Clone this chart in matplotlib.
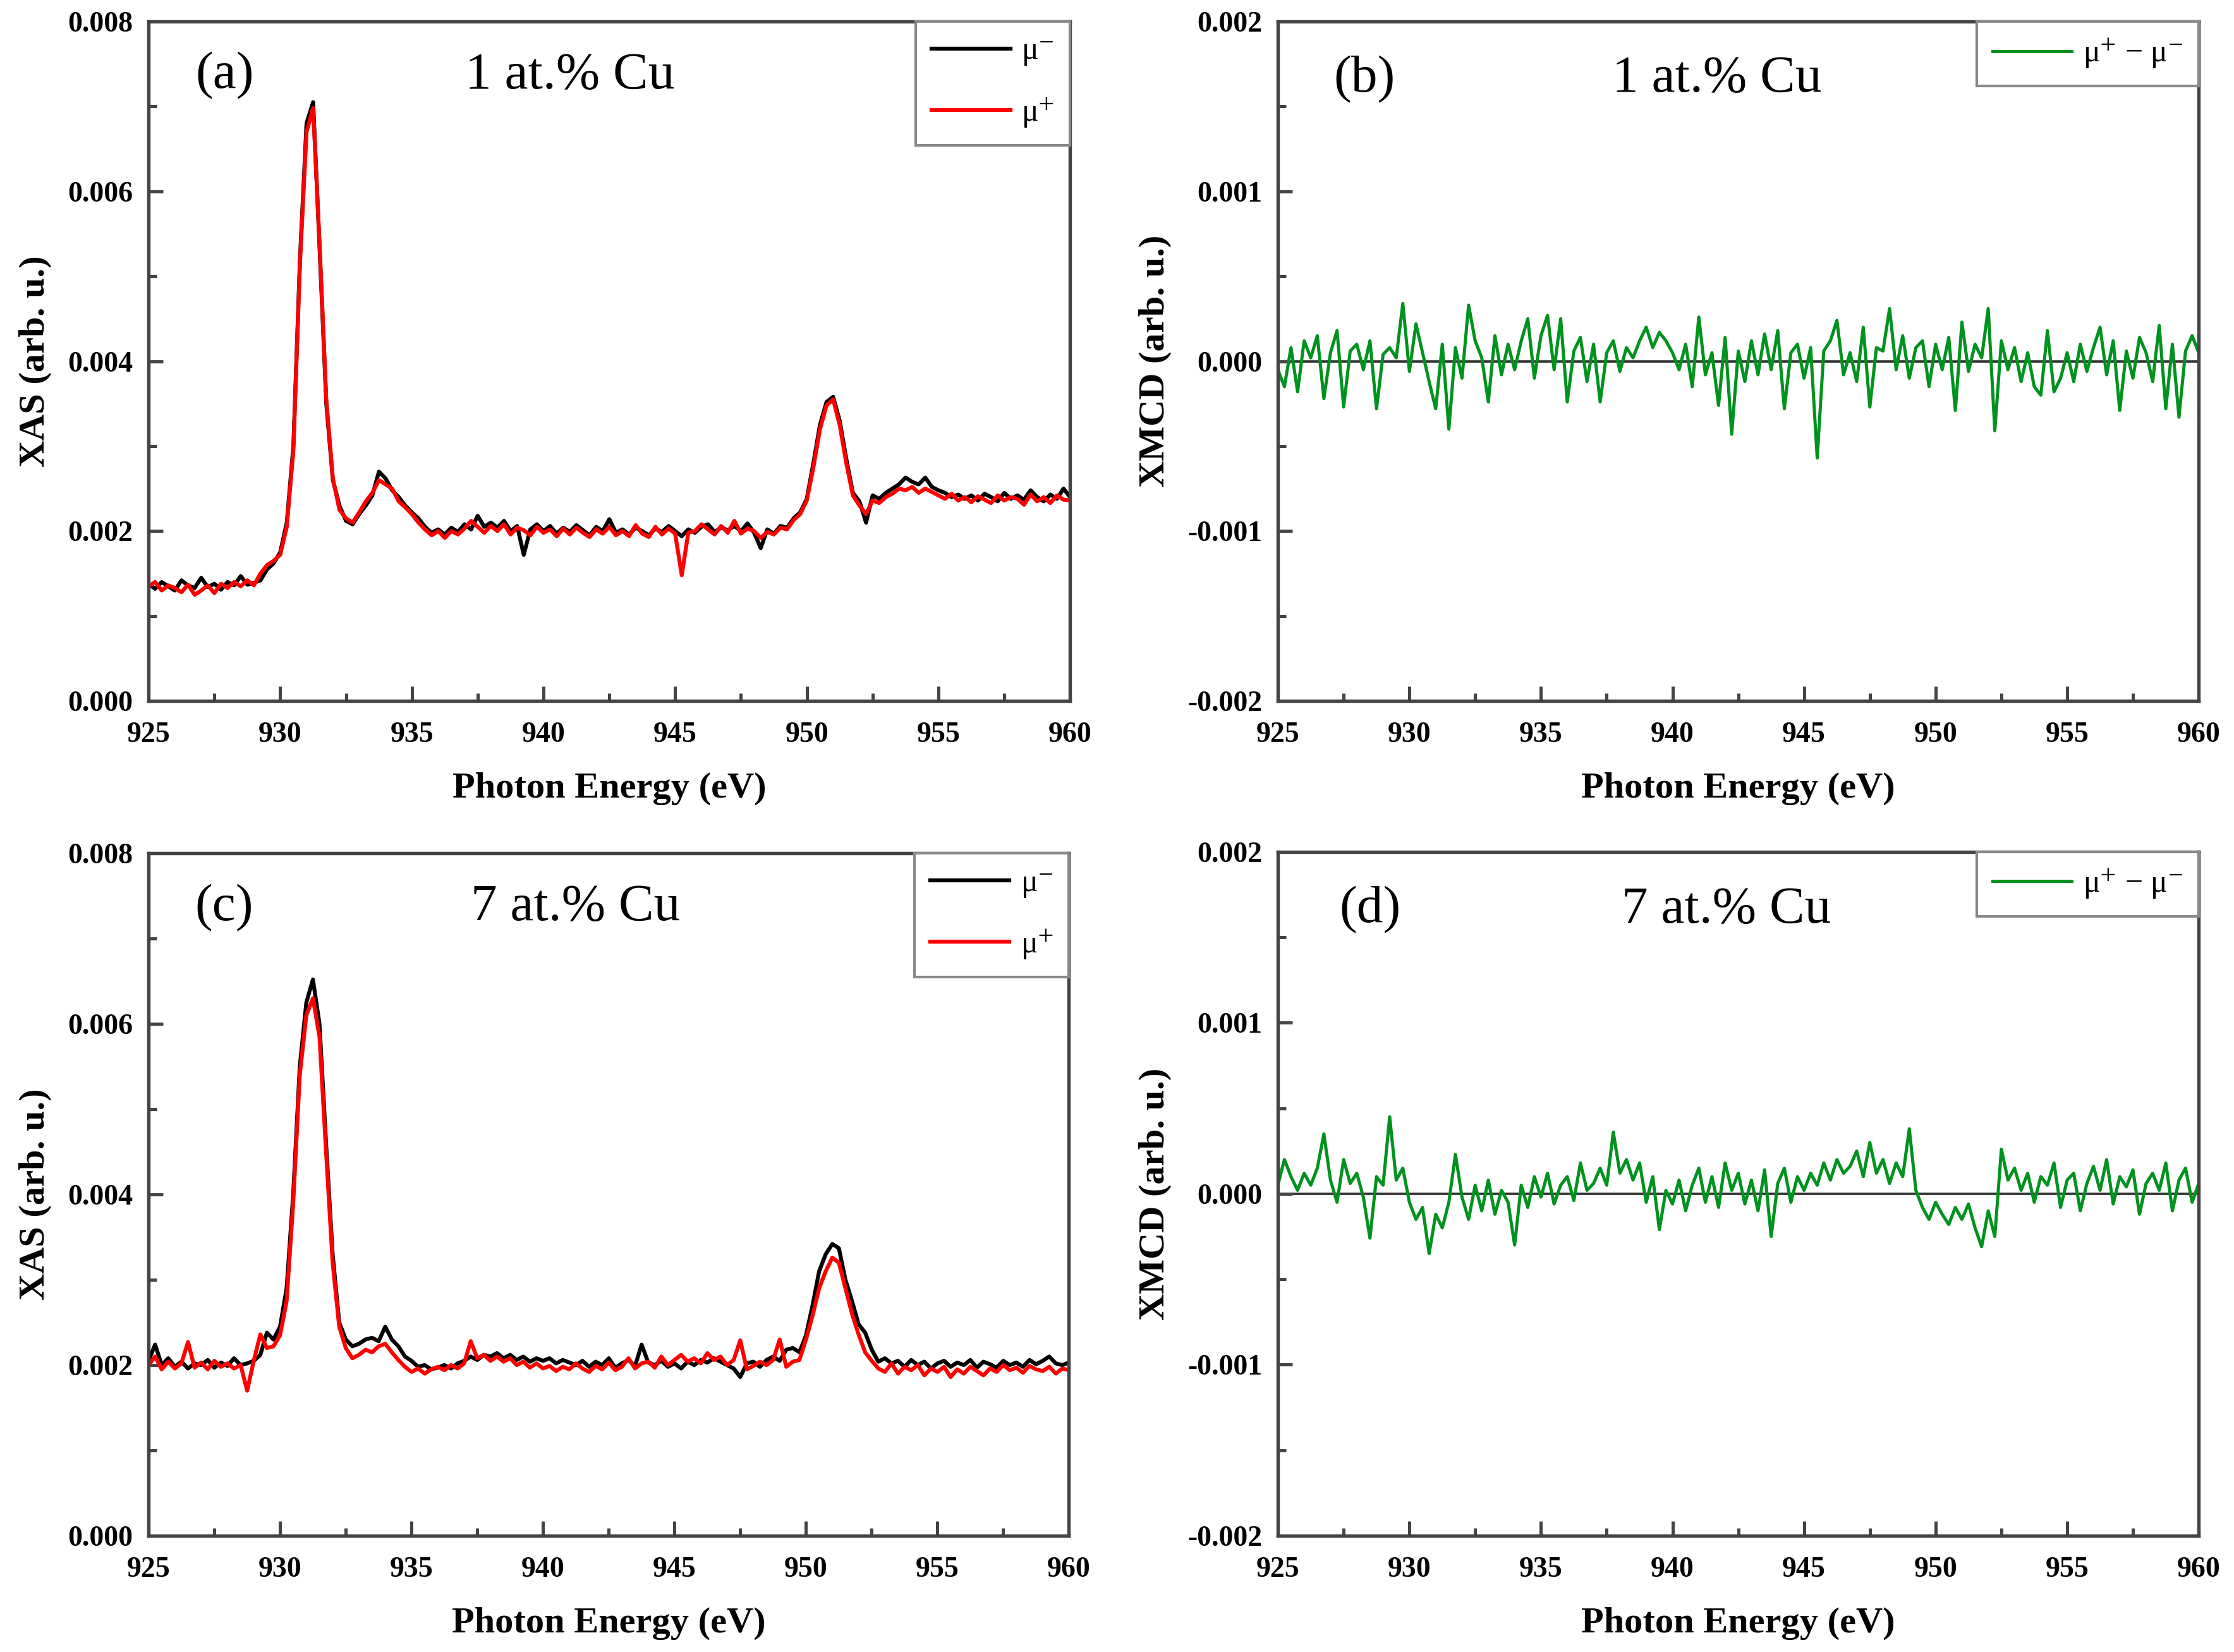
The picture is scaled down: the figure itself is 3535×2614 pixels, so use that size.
import numpy as np
import matplotlib
matplotlib.use('Agg')
import matplotlib.pyplot as plt
from matplotlib.ticker import MultipleLocator, FormatStrFormatter

plt.rcParams['font.family'] = ['Liberation Serif', 'DejaVu Serif']
plt.rcParams['mathtext.fontset'] = 'stix'

# Photon energy grid (eV), 0.25 eV steps
energy = np.arange(925.0, 960.001, 0.25)

# XAS, 1 at.% Cu (units of 1e-3)
mu_minus_1 = [
    1.38, 1.32, 1.40, 1.35,  1.30, 1.42, 1.36, 1.33,  1.45, 1.34, 1.38, 1.31,
    1.40, 1.36, 1.47, 1.37,  1.39, 1.42, 1.55, 1.62,  1.75, 2.10, 3.00, 5.20,
    6.80, 7.05, 5.30, 3.50,  2.60, 2.30, 2.12, 2.08,  2.20, 2.30, 2.42, 2.70,
    2.62, 2.48, 2.40, 2.30,  2.22, 2.15, 2.05, 1.98,  2.02, 1.96, 2.04, 1.99,
    2.08, 2.02, 2.18, 2.05,  2.10, 2.04, 2.12, 2.00,  2.06, 1.72, 2.02, 2.08,
    2.00, 2.06, 1.97, 2.04,  1.99, 2.07, 2.01, 1.95,  2.05, 2.00, 2.14, 1.98,
    2.02, 1.96, 2.04, 2.00,  1.95, 2.03, 1.99, 2.06,  2.00, 1.94, 2.02, 1.98,
    2.05, 2.08, 1.99, 2.04,  2.01, 2.06, 2.00, 2.09,  1.98, 1.80, 2.02, 1.97,
    2.06, 2.04, 2.15, 2.22,  2.38, 2.80, 3.25, 3.52,  3.58, 3.30, 2.85, 2.45,
    2.35, 2.10, 2.42, 2.38,  2.45, 2.50, 2.55, 2.63,  2.58, 2.55, 2.63, 2.52,
    2.48, 2.45, 2.40, 2.43,  2.38, 2.42, 2.36, 2.44,  2.40, 2.35, 2.45, 2.38,
    2.42, 2.37, 2.48, 2.40,  2.35, 2.43, 2.38, 2.50,  2.40,
]
mu_plus_1 = [
    1.35, 1.40, 1.30, 1.36,  1.33, 1.28, 1.37, 1.25,  1.30, 1.36, 1.27, 1.38,
    1.33, 1.40, 1.35, 1.42,  1.36, 1.50, 1.60, 1.65,  1.72, 2.05, 2.95, 5.15,
    6.70, 6.98, 5.35, 3.55,  2.62, 2.25, 2.15, 2.10,  2.22, 2.35, 2.45, 2.60,
    2.55, 2.50, 2.35, 2.28,  2.20, 2.10, 2.02, 1.95,  2.00, 1.92, 2.00, 1.96,
    2.03, 2.12, 2.05, 1.98,  2.06, 2.00, 2.08, 1.96,  2.04, 2.01, 1.95, 2.05,
    1.98, 2.02, 1.94, 2.03,  1.96, 2.04, 1.98, 1.93,  2.02, 1.97, 2.05, 1.95,
    2.00, 1.94, 2.07, 1.97,  1.93, 2.05, 1.96, 2.03,  1.97, 1.48, 1.98, 2.00,
    2.08, 2.02, 1.96, 2.06,  1.98, 2.12, 1.97, 2.03,  2.00, 1.92, 1.99, 1.96,
    2.04, 2.02, 2.13, 2.20,  2.36, 2.75, 3.20, 3.48,  3.55, 3.25, 2.80, 2.42,
    2.30, 2.20, 2.36, 2.33,  2.40, 2.44, 2.50, 2.48,  2.52, 2.45, 2.50, 2.46,
    2.42, 2.38, 2.44, 2.36,  2.40, 2.34, 2.41, 2.37,  2.33, 2.42, 2.36, 2.40,
    2.38, 2.31, 2.43, 2.35,  2.40, 2.33, 2.42, 2.37,  2.36,
]

# XAS, 7 at.% Cu (units of 1e-3)
mu_minus_7 = [
    2.05, 2.24, 2.00, 2.08,  1.98, 2.04, 1.96, 2.02,  2.00, 2.06, 1.97, 2.03,
    1.99, 2.08, 2.00, 2.02,  2.05, 2.12, 2.38, 2.30,  2.45, 2.90, 4.00, 5.50,
    6.25, 6.52, 6.00, 4.60,  3.30, 2.50, 2.30, 2.22,  2.25, 2.30, 2.32, 2.28,
    2.45, 2.30, 2.22, 2.10,  2.05, 1.98, 2.00, 1.95,  1.97, 2.00, 1.96, 2.02,
    2.05, 2.10, 2.06, 2.12,  2.10, 2.14, 2.08, 2.12,  2.06, 2.10, 2.04, 2.08,
    2.05, 2.08, 2.02, 2.06,  2.03, 2.00, 2.05, 1.98,  2.04, 2.00, 2.08, 1.97,
    2.02, 2.06, 1.99, 2.24,  2.03, 2.00, 2.05, 1.98,  2.02, 1.96, 2.04, 2.00,
    2.06, 2.03, 2.08, 2.04,  2.00, 1.96, 1.86, 2.02,  2.04, 1.98, 2.06, 2.10,
    2.05, 2.18, 2.20, 2.15,  2.35, 2.70, 3.10, 3.30,  3.42, 3.37, 3.00, 2.75,
    2.48, 2.38, 2.18, 2.04,  2.08, 2.02, 2.05, 1.98,  2.06, 2.00, 2.04, 1.96,
    2.02, 2.05, 1.98, 2.03,  2.00, 2.06, 1.97, 2.04,  2.01, 1.97, 2.05, 2.00,
    2.03, 1.98, 2.06, 2.01,  2.05, 2.10, 2.02, 2.00,  2.03,
]
mu_plus_7 = [
    2.00, 2.10, 1.95, 2.04,  1.96, 2.02, 2.27, 1.97,  2.03, 1.95, 2.05, 1.98,
    2.02, 1.96, 2.00, 1.70,  2.05, 2.36, 2.20, 2.22,  2.35, 2.75, 3.90, 5.40,
    6.10, 6.30, 5.85, 4.50,  3.20, 2.45, 2.20, 2.08,  2.12, 2.18, 2.15, 2.22,
    2.25, 2.15, 2.06, 1.98,  1.92, 1.96, 1.90, 1.95,  1.98, 1.94, 2.00, 1.96,
    2.02, 2.28, 2.08, 2.12,  2.05, 2.10, 2.04, 2.08,  2.00, 2.04, 1.97, 2.02,
    1.96, 1.99, 1.93, 1.98,  1.95, 2.02, 1.96, 1.92,  1.99, 1.95, 2.03, 1.94,
    1.98, 2.08, 1.96, 2.02,  2.04, 1.97, 2.10, 2.00,  2.06, 2.12, 2.04, 2.08,
    2.02, 2.14, 2.06, 2.10,  2.00, 2.06, 2.29, 1.95,  1.99, 2.04, 2.00, 2.06,
    2.30, 1.98, 2.04, 2.06,  2.30, 2.58, 2.90, 3.10,  3.26, 3.20, 2.90, 2.60,
    2.36, 2.15, 2.05, 1.96,  1.92, 2.02, 1.90, 1.98,  1.94, 2.00, 1.88, 1.96,
    1.92, 1.98, 1.86, 1.95,  1.90, 1.98, 1.93, 1.88,  1.96, 1.92, 2.00, 1.94,
    1.97, 1.91, 1.99, 1.95,  1.93, 1.98, 1.90, 1.96,  1.94,
]

# XMCD (mu+ - mu-), units of 1e-3
xmcd_1 = [
    -0.05, -0.15, 0.08, -0.18,  0.12, 0.02, 0.15, -0.22,  0.05, 0.18, -0.27, 0.06,
    0.10, -0.05, 0.12, -0.28,  0.04, 0.08, 0.02, 0.34,  -0.06, 0.22, 0.05, -0.12,
    -0.28, 0.10, -0.40, 0.08,  -0.10, 0.33, 0.12, 0.02,  -0.24, 0.15, -0.08, 0.10,
    -0.05, 0.12, 0.25, -0.10,  0.15, 0.27, -0.05, 0.25,  -0.24, 0.06, 0.14, -0.12,
    0.10, -0.24, 0.05, 0.12,  -0.06, 0.08, 0.02, 0.12,  0.20, 0.08, 0.17, 0.12,
    0.05, -0.05, 0.10, -0.15,  0.26, -0.08, 0.05, -0.26,  0.14, -0.43, 0.06, -0.12,
    0.12, -0.08, 0.16, -0.05,  0.18, -0.28, 0.05, 0.10,  -0.10, 0.08, -0.57, 0.06,
    0.12, 0.24, -0.08, 0.05,  -0.12, 0.20, -0.27, 0.08,  0.06, 0.31, -0.05, 0.15,
    -0.10, 0.08, 0.12, -0.15,  0.10, -0.05, 0.14, -0.29,  0.23, -0.06, 0.10, 0.02,
    0.31, -0.41, 0.12, -0.05,  0.08, -0.12, 0.05, -0.15,  -0.20, 0.18, -0.18, -0.10,
    0.05, -0.12, 0.10, -0.06,  0.08, 0.20, -0.08, 0.12,  -0.29, 0.06, -0.10, 0.14,
    0.05, -0.12, 0.21, -0.28,  0.10, -0.33, 0.06, 0.15,  0.05,
]
xmcd_7 = [
    0.05, 0.20, 0.10, 0.02,  0.12, 0.05, 0.15, 0.35,  0.08, -0.05, 0.20, 0.06,
    0.12, -0.02, -0.26, 0.10,  0.05, 0.45, 0.08, 0.15,  -0.05, -0.15, -0.08, -0.35,
    -0.12, -0.20, -0.05, 0.23,  -0.02, -0.15, 0.05, -0.10,  0.08, -0.12, 0.02, -0.05,
    -0.30, 0.05, -0.08, 0.10,  -0.02, 0.12, -0.06, 0.05,  0.10, -0.04, 0.18, 0.02,
    0.06, 0.15, 0.05, 0.36,  0.12, 0.20, 0.08, 0.18,  -0.05, 0.10, -0.21, 0.02,
    -0.06, 0.08, -0.10, 0.05,  0.15, -0.05, 0.10, -0.08,  0.18, 0.02, 0.12, -0.06,
    0.08, -0.10, 0.14, -0.25,  0.06, 0.15, -0.05, 0.10,  0.02, 0.12, 0.05, 0.18,
    0.08, 0.20, 0.12, 0.16,  0.25, 0.10, 0.30, 0.12,  0.20, 0.06, 0.18, 0.10,
    0.38, 0.02, -0.08, -0.15,  -0.05, -0.12, -0.18, -0.08,  -0.15, -0.06, -0.20, -0.31,
    -0.10, -0.25, 0.26, 0.08,  0.15, 0.02, 0.12, -0.05,  0.10, 0.05, 0.18, -0.08,
    0.08, 0.12, -0.10, 0.06,  0.16, 0.02, 0.20, -0.06,  0.10, 0.04, 0.14, -0.12,
    0.06, 0.12, 0.02, 0.18,  -0.10, 0.08, 0.15, -0.05,  0.06,
]

panel_tags = ['(a)', '(b)', '(c)', '(d)']
sample_names = ['1 at.% Cu', '7 at.% Cu']

fig = plt.figure(figsize=(3535 / 300, 2614 / 300), dpi=300)
ax_a = fig.add_axes([0.0665, 0.5757, 0.4125, 0.4113])
ax_b = fig.add_axes([0.572, 0.5757, 0.4122, 0.4113])
ax_c = fig.add_axes([0.0665, 0.0704, 0.4120, 0.4131])
ax_d = fig.add_axes([0.572, 0.0704, 0.4122, 0.4140])

spine_col = '#444444'


def style_axes(ax, ylim, ymajor, yminor):
    ax.set_xlim(925, 960)
    ax.set_ylim(*ylim)
    ax.xaxis.set_major_locator(MultipleLocator(5))
    ax.xaxis.set_minor_locator(MultipleLocator(2.5))
    ax.yaxis.set_major_locator(MultipleLocator(ymajor))
    ax.yaxis.set_minor_locator(MultipleLocator(yminor))
    ax.yaxis.set_major_formatter(FormatStrFormatter('%.3f'))
    ax.tick_params(which='both', direction='in', top=False, right=False,
                   color=spine_col, width=1.2)
    ax.tick_params(which='major', length=5.5, labelsize=11, pad=6)
    ax.tick_params(axis='x', which='major', pad=8)
    ax.tick_params(which='minor', length=3)
    for lab in ax.get_xticklabels() + ax.get_yticklabels():
        lab.set_fontweight('bold')
    for sp in ax.spines.values():
        sp.set_color(spine_col)
        sp.set_linewidth(1.3)
    ax.set_xlabel('Photon Energy (eV)', fontsize=14, fontweight='bold', labelpad=9)


def add_legend(ax):
    leg = ax.legend(loc='upper right', borderaxespad=0, fancybox=False,
                    edgecolor='#888888', framealpha=1, fontsize=12,
                    handlelength=2.5, handletextpad=0.35, labelspacing=0.9,
                    borderpad=0.5)
    leg.get_frame().set_linewidth(1.0)


# XAS panels
for ax, mm, mp, tag, name, tx, nx in [
        (ax_a, mu_minus_1, mu_plus_1, panel_tags[0], sample_names[0], 0.083, 0.457),
        (ax_c, mu_minus_7, mu_plus_7, panel_tags[2], sample_names[1], 0.082, 0.464)]:
    ax.plot(energy, np.array(mm) * 1e-3, color='black', lw=1.5, label='μ$^{-}$')
    ax.plot(energy, np.array(mp) * 1e-3, color='#ff0000', lw=1.5, label='μ$^{+}$')
    style_axes(ax, (0, 0.008), 0.002, 0.001)
    ax.set_ylabel('XAS (arb. u.)', fontsize=14, fontweight='bold', labelpad=6)
    ax.text(tx, 0.92, tag, transform=ax.transAxes, ha='center', va='center', fontsize=20)
    ax.text(nx, 0.92, name, transform=ax.transAxes, ha='center', va='center', fontsize=20)
    add_legend(ax)

# XMCD panels
for ax, xm, tag, name, tx, nx in [
        (ax_b, xmcd_1, panel_tags[1], sample_names[0], 0.094, 0.477),
        (ax_d, xmcd_7, panel_tags[3], sample_names[1], 0.100, 0.487)]:
    ax.axhline(0, color='#333333', lw=0.9, zorder=1)
    ax.plot(energy, np.array(xm) * 1e-3, color='#00921e', lw=1.2,
            label='μ$^{+}$ \u2212 μ$^{-}$', zorder=2)
    style_axes(ax, (-0.002, 0.002), 0.001, 0.0005)
    ax.set_ylabel('XMCD (arb. u.)', fontsize=14, fontweight='bold', labelpad=6)
    ax.text(tx, 0.915, tag, transform=ax.transAxes, ha='center', va='center', fontsize=20)
    ax.text(nx, 0.915, name, transform=ax.transAxes, ha='center', va='center', fontsize=20)
    add_legend(ax)

fig.savefig('out.png', dpi=300)
